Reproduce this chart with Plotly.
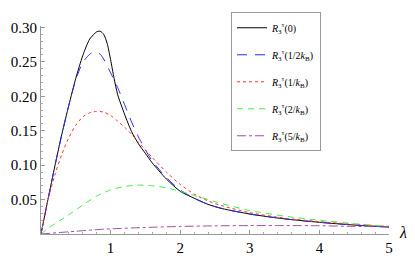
import plotly.graph_objects as go

x_black = [0, 0.1, 0.2, 0.3, 0.4, 0.5, 0.6, 0.7, 0.8, 0.85, 0.9, 0.95, 1.0, 1.05, 1.1, 1.2, 1.3, 1.4, 1.5, 1.6, 1.8, 2.0, 2.2, 2.4, 2.6, 3.0, 3.5, 4.0, 4.5, 5.0]
y_black = [0, 0.05, 0.099, 0.145, 0.187, 0.226, 0.259, 0.283, 0.2935, 0.2945, 0.29, 0.277, 0.253, 0.226, 0.203, 0.174, 0.149, 0.131, 0.117, 0.103, 0.08, 0.062, 0.052, 0.043, 0.037, 0.029, 0.022, 0.017, 0.013, 0.010]

x_blue = [0, 0.1, 0.2, 0.3, 0.4, 0.5, 0.6, 0.7, 0.78, 0.85, 0.9, 1.0, 1.1, 1.2, 1.3, 1.4, 1.5, 1.6, 1.8, 2.0, 2.2, 2.4, 2.6, 3.0, 3.5, 4.0, 4.5, 5.0]
y_blue = [0, 0.05, 0.099, 0.145, 0.187, 0.224, 0.249, 0.261, 0.265, 0.261, 0.254, 0.234, 0.213, 0.188, 0.163, 0.141, 0.122, 0.106, 0.082, 0.064, 0.052, 0.043, 0.037, 0.029, 0.022, 0.017, 0.013, 0.010]

x_red = [0, 0.05, 0.1, 0.2, 0.3, 0.4, 0.5, 0.6, 0.7, 0.8, 0.9, 1.0, 1.1, 1.2, 1.3, 1.4, 1.5, 1.6, 1.8, 2.0, 2.2, 2.4, 2.6, 3.0, 3.5, 4.0, 4.5, 5.0]
y_red = [0, 0.027, 0.05, 0.086, 0.116, 0.14, 0.158, 0.17, 0.176, 0.178, 0.177, 0.172, 0.164, 0.155, 0.145, 0.133, 0.122, 0.111, 0.09, 0.072, 0.058, 0.048, 0.041, 0.031, 0.023, 0.018, 0.014, 0.011]

x_green = [0, 0.1, 0.2, 0.4, 0.6, 0.8, 1.0, 1.2, 1.4, 1.6, 1.8, 2.0, 2.2, 2.5, 3.0, 3.5, 4.0, 4.5, 5.0]
y_green = [0, 0.008, 0.015, 0.028, 0.042, 0.055, 0.064, 0.069, 0.071, 0.07, 0.067, 0.062, 0.056, 0.047, 0.034, 0.026, 0.02, 0.015, 0.011]

x_purple = [0, 0.25, 0.5, 0.75, 1.0, 1.5, 2.0, 2.5, 3.0, 3.5, 4.0, 4.5, 5.0]
y_purple = [0, 0.002, 0.004, 0.006, 0.0075, 0.0095, 0.011, 0.0118, 0.0122, 0.0122, 0.012, 0.011, 0.0105]

names = [
    "<i>R</i><sub>3</sub><sup>τ</sup>(0)",
    "<i>R</i><sub>3</sub><sup>τ</sup>(1/2<i>k</i><sub>B</sub>)",
    "<i>R</i><sub>3</sub><sup>τ</sup>(1/<i>k</i><sub>B</sub>)",
    "<i>R</i><sub>3</sub><sup>τ</sup>(2/<i>k</i><sub>B</sub>)",
    "<i>R</i><sub>3</sub><sup>τ</sup>(5/<i>k</i><sub>B</sub>)",
]
x_ticks = [1, 2, 3, 4, 5]
y_ticks = [0.05, 0.10, 0.15, 0.20, 0.25, 0.30]
y_ticklabels = ["0.05", "0.10", "0.15", "0.20", "0.25", "0.30"]

series = [
    (x_black, y_black, "#000000", "solid"),
    (x_blue, y_blue, "#2a2aff", "10px,8px"),
    (x_red, y_red, "#ff3030", "dot"),
    (x_green, y_green, "#44ee44", "6px,5px"),
    (x_purple, y_purple, "#a050a0", "dashdot"),
]

fig = go.Figure()
for i, (xs, ys, c, d) in enumerate(series):
    fig.add_trace(go.Scatter(x=xs, y=ys, mode="lines", name=names[i],
                             legendgroup=str(i),
                             line=dict(color=c, width=1, dash=d, shape="spline", smoothing=0.7)))

font = dict(family="Liberation Serif, Times New Roman, serif", color="#000")
fig.update_layout(
    width=415, height=262,
    margin=dict(l=41, r=26, t=17, b=28),
    paper_bgcolor="white", plot_bgcolor="white",
    font=dict(**font, size=15),
    showlegend=True,
    legend=dict(x=0.546, y=1.066, xanchor="left", yanchor="top",
                bordercolor="#999", borderwidth=1, bgcolor="white",
                font=dict(**font, size=10), tracegroupgap=8, itemwidth=30,
                maxheight=400),
    xaxis=dict(range=[0, 5], tickvals=x_ticks, ticktext=[str(v) for v in x_ticks],
               showgrid=False, zeroline=False, showline=True, linecolor="#999", linewidth=1,
               ticks="inside", ticklen=4, tickcolor="#999", automargin=False,
               minor=dict(dtick=0.2, ticks="inside", ticklen=2, tickcolor="#aaa"),
               tickfont=dict(**font, size=15)),
    yaxis=dict(range=[0, 0.302], tickvals=y_ticks, ticktext=y_ticklabels,
               showgrid=False, zeroline=False, showline=True, linecolor="#999", linewidth=1,
               ticks="inside", ticklen=4, tickcolor="#999", automargin=False,
               minor=dict(dtick=0.01, ticks="inside", ticklen=2, tickcolor="#aaa"),
               tickfont=dict(**font, size=15)),
    annotations=[dict(text="<i>λ</i>", x=1.0, xref="paper", y=0, yref="y", xshift=14, yshift=2,
                      showarrow=False, font=dict(**font, size=16), xanchor="center", yanchor="middle")],
)
fig.write_html("out.html", config={"displayModeBar": False},
               post_script="document.body.style.margin='0px';")
